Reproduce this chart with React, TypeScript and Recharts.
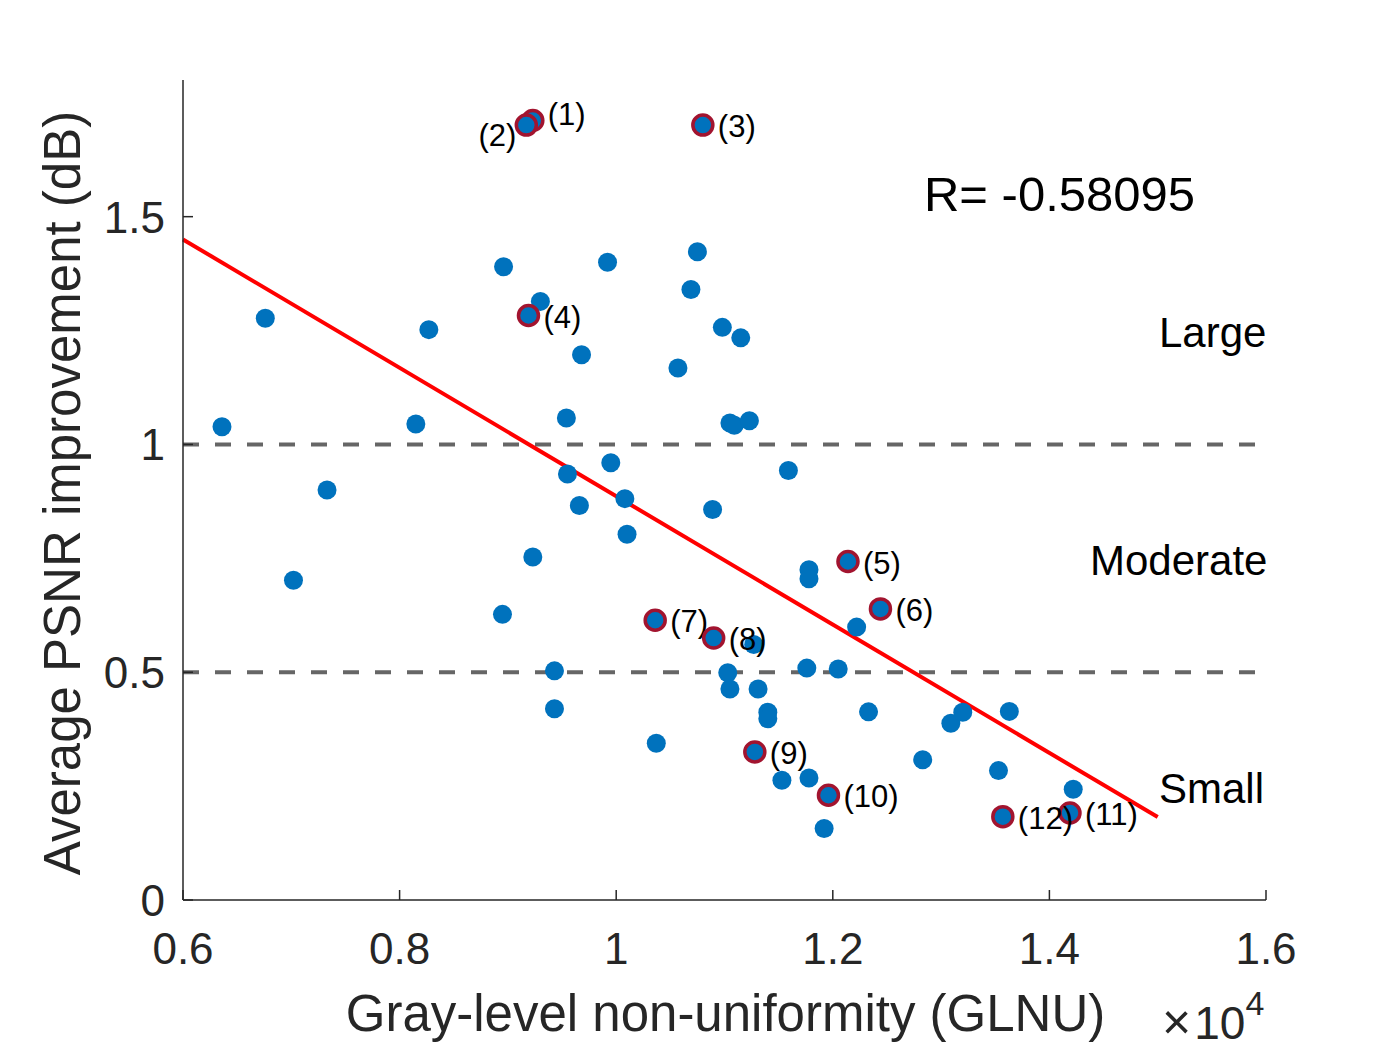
import React from 'react';
import {
  ReferenceDot,
  ReferenceLine,
  Scatter,
  ScatterChart,
  XAxis,
  YAxis,
} from 'recharts';

// GLNU values (raw) and average PSNR improvement (dB) for all ordinary images
const glnu = [
  6360, 6760, 7020, 7330, 8150, 8270, 8960, 8950, 9300, 9230, 9430, 9430, 9540,
  9550, 9660, 9680, 9920, 9950, 10080, 10100, 10370, 10570, 10690, 10750, 10890,
  10980, 11030, 11050, 11090, 11050, 11150, 11230, 11270, 11310, 11400, 11400,
  11530, 11590, 11760, 11780, 11780, 11780, 11920, 12050, 12220, 12330, 12830,
  13090, 13200, 13530, 13630, 14220,
];
const psnr = [
  1.039, 1.277, 0.702, 0.9, 1.045, 1.252, 1.39, 0.627, 1.314, 0.753, 0.503,
  0.42, 1.058, 0.935, 0.866, 1.197, 1.4, 0.96, 0.881, 0.803, 0.344, 1.168, 1.34,
  1.423, 0.857, 1.257, 0.499, 1.047, 1.042, 0.463, 1.234, 1.052, 0.561, 0.463,
  0.412, 0.398, 0.263, 0.943, 0.509, 0.725, 0.705, 0.268, 0.157, 0.507, 0.599,
  0.413, 0.308, 0.388, 0.412, 0.284, 0.414, 0.243,
];

// numbered cases
const caseLabels = ['(1)', '(2)', '(3)', '(4)', '(5)', '(6)', '(7)', '(8)', '(9)', '(10)', '(11)', '(12)'];
const caseGlnu = [9230, 9170, 10800, 9190, 12140, 12440, 10360, 10900, 11280, 11960, 14190, 13570];
const casePsnr = [1.711, 1.701, 1.701, 1.283, 0.743, 0.639, 0.614, 0.575, 0.325, 0.23, 0.191, 0.183];

// least-squares fit end points
const fitGlnu = [6000, 15000];
const fitPsnr = [1.45, 0.182];

const xTicks = [6000, 8000, 10000, 12000, 14000, 16000];
const yTicks = [0, 0.5, 1, 1.5];
const thresholds = [1, 0.5];

const FONT = '"Liberation Sans", Arial, Helvetica, sans-serif';
const AXIS = '#262626';

const points = glnu.map((x, i) => ({ x, y: psnr[i] }));
const cases = caseLabels.map((label, i) => ({ x: caseGlnu[i], y: casePsnr[i], label }));

const labelOffset: Record<string, { dx: number; dy: number; anchor?: string }> = {
  '(1)': { dx: 15, dy: 4 },
  '(2)': { dx: -10, dy: 21, anchor: 'end' },
};

const fmtX = (v: number) => String(v / 10000);

const XTick = (props: any) => {
  const { x, y, payload } = props;
  return (
    <g>
      <line x1={x} x2={x} y1={y} y2={y - 10} stroke={AXIS} strokeWidth={1.5} />
      <text x={x} y={y + 64} textAnchor="middle" fontSize={44} fill={AXIS} fontFamily={FONT}>
        {fmtX(payload.value)}
      </text>
    </g>
  );
};

const YTick = (props: any) => {
  const { x, y, payload } = props;
  return (
    <g>
      <line x1={x} x2={x + 10} y1={y} y2={y} stroke={AXIS} strokeWidth={1.5} />
      <text x={x - 18} y={y} dy="0.36em" textAnchor="end" fontSize={44} fill={AXIS} fontFamily={FONT}>
        {payload.value}
      </text>
    </g>
  );
};

const Dot = (props: any) => <circle cx={props.cx} cy={props.cy} r={9.5} fill="#0072BD" />;

const CaseDot = (props: any) => {
  const { cx, cy, payload } = props;
  const o = labelOffset[payload.label] ?? { dx: 15, dy: 12 };
  return (
    <g>
      <circle cx={cx} cy={cy} r={9.5} fill="#0072BD" />
      <circle cx={cx} cy={cy} r={10} fill="none" stroke="#A2142F" strokeWidth={3.5} />
      <text
        x={cx + o.dx}
        y={cy + o.dy}
        textAnchor={o.anchor ?? 'start'}
        fontSize={31}
        fill="#000"
        fontFamily={FONT}
      >
        {payload.label}
      </text>
    </g>
  );
};

const note = (text: string, size: number) => (p: any) => (
  <text x={p.cx} y={p.cy} fontSize={size} fill="#000" fontFamily={FONT}>
    {text}
  </text>
);

const XTitle = (props: any) => {
  const { x, y, width } = props.viewBox;
  const right = x + width;
  return (
    <g fontFamily={FONT} fill={AXIS}>
      <text x={x + width / 2 + 1} y={y + 131} textAnchor="middle" fontSize={51}>
        Gray-level non-uniformity (GLNU)
      </text>
      <text x={right - 104} y={y + 139} fontSize={46}>
        <tspan fontSize={50} fontWeight={300}>×</tspan>
        <tspan dx={3}>10</tspan>
        <tspan dy={-24} fontSize={34}>4</tspan>
      </text>
    </g>
  );
};

const YTitle = (props: any) => {
  const { y, height } = props.viewBox;
  const cy = y + height / 2 + 3;
  return (
    <text
      x={80}
      y={cy}
      transform={`rotate(-90, 80, ${cy})`}
      textAnchor="middle"
      fontSize={51}
      fill={AXIS}
      fontFamily={FONT}
    >
      Average PSNR improvement (dB)
    </text>
  );
};

export default function App() {
  return (
    <div style={{ position: 'absolute', left: 0, top: 0, background: '#fff' }}>
      <ScatterChart width={1400} height={1050} margin={{ top: 80, right: 134, bottom: 0, left: 0 }}>
        <XAxis
          type="number"
          dataKey="x"
          domain={[6000, 16000]}
          ticks={xTicks}
          interval={0}
          height={150}
          tickSize={0}
          tickMargin={0}
          tickLine={false}
          tick={<XTick />}
          axisLine={{ stroke: AXIS, strokeWidth: 1.5 }}
          allowDataOverflow
          label={<XTitle />}
        />
        <YAxis
          type="number"
          dataKey="y"
          domain={[0, 1.8]}
          ticks={yTicks}
          interval={0}
          width={183}
          tickSize={0}
          tickMargin={0}
          tickLine={false}
          tick={<YTick />}
          axisLine={{ stroke: AXIS, strokeWidth: 1.5 }}
          allowDataOverflow
          label={<YTitle />}
        />
        {thresholds.map((t) => (
          <ReferenceLine key={t} y={t} stroke="#666" strokeWidth={4} strokeDasharray="16 16" />
        ))}
        <ReferenceLine
          segment={[
            { x: fitGlnu[0], y: fitPsnr[0] },
            { x: fitGlnu[1], y: fitPsnr[1] },
          ]}
          stroke="#FF0000"
          strokeWidth={4}
        />
        <Scatter data={points} shape={<Dot />} isAnimationActive={false} />
        <Scatter data={cases} shape={<CaseDot />} isAnimationActive={false} />
        <ReferenceDot x={12842} y={1.513} r={0} shape={note('R= -0.58095', 49)} />
        <ReferenceDot x={15012} y={1.213} r={0} shape={note('Large', 42)} />
        <ReferenceDot x={14375} y={0.713} r={0} shape={note('Moderate', 42)} />
        <ReferenceDot x={15012} y={0.213} r={0} shape={note('Small', 42)} />
      </ScatterChart>
    </div>
  );
}
